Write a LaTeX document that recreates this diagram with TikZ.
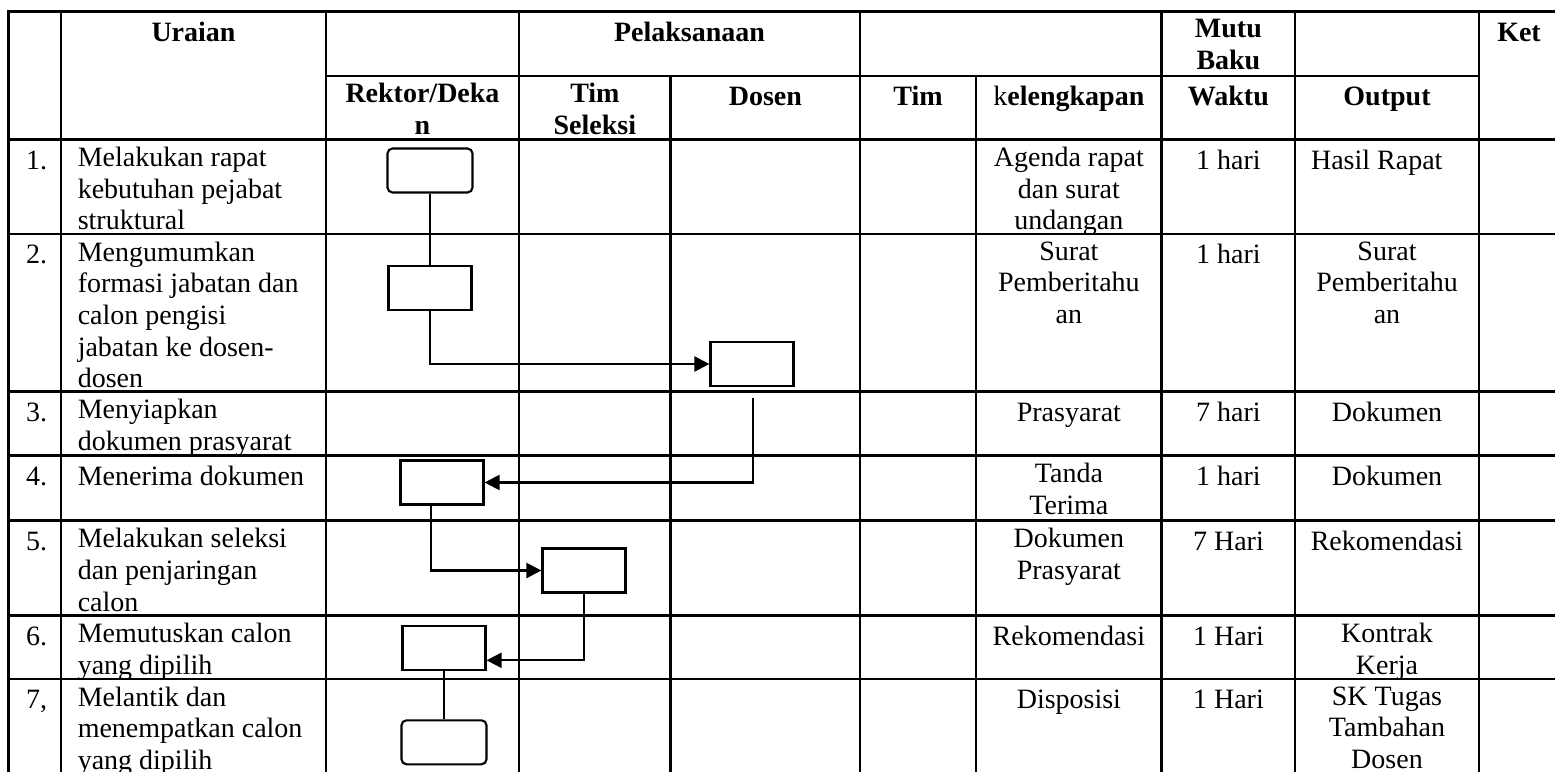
\documentclass[tikz,border=0pt]{standalone}
\usepackage{fontspec}
\setmainfont{Liberation Serif}
\usetikzlibrary{arrows.meta}

\begin{document}
\begin{tikzpicture}[x=1pt,y=-1pt,line width=2.1pt,>={Triangle[length=15pt,width=15pt]},
  grid/.style={line width=2.9pt,line cap=rect},
  txt/.style={inner sep=0pt,font=\fontsize{28}{31.7}\selectfont,execute at begin node=\strut},
  hd/.style={txt,font=\fontsize{28}{31.7}\selectfont\bfseries,align=center,anchor=north},
  mid/.style={txt,align=center,anchor=north},
  lft/.style={txt,align=left,anchor=north west},
  actbox/.style={draw,minimum width=83pt,minimum height=44pt,inner sep=0pt},
  termbox/.style={actbox,minimum width=85pt,rounded corners=5pt}]
  \useasboundingbox (0,0) rectangle (1555,771);
  % garis tabel
  \foreach \y in {11.7,139.3,234,391.7,455.5,520.7,615.7,679} \draw[grid] (8.3,\y) -- (1562,\y);
  \draw[grid] (326,76) -- (1479,76);
  \foreach \x in {8.3,61,326,519,860,1161.7,1295,1479} \draw[grid] (\x,11.7) -- (\x,780);
  \foreach \x in {670.7,976} \draw[grid] (\x,76) -- (\x,780);
  % kepala tabel
  \node[hd] (uraian) at (193.5,18) {Uraian};
  \node[hd] (pelaksanaan) at (689.5,18) {Pelaksanaan};
  \node[hd] (mutu) at (1228.4,18) {Mutu\\Baku};
  \node[hd] (ket) at (1519,18) {Ket};
  \node[hd] (rektor) at (422.5,82.3) {Rektor/Deka\\n};
  \node[hd] (timsel) at (594.9,82.3) {Tim\\Seleksi};
  \node[hd] (dosen) at (765.4,82.3) {Dosen};
  \node[hd] (tim) at (918,82.3) {Tim};
  \node[hd] (kel) at (1068.9,82.3) {{\mdseries k}elengkapan};
  \node[hd] (waktu) at (1228.4,82.3) {Waktu};
  \node[hd] (output) at (1387,82.3) {Output};
  % uraian kegiatan
  \foreach \n/\y/\t [count=\i] in {1./146/{Melakukan rapat\\kebutuhan pejabat\\struktural},
      2./240.7/{Mengumumkan\\formasi jabatan dan\\calon pengisi\\jabatan ke dosen-\\dosen},
      3./398.4/{Menyiapkan\\dokumen prasyarat},
      4./462.2/{Menerima dokumen},
      5./527.4/{Melakukan seleksi\\dan penjaringan\\calon},
      6./622.4/{Memutuskan calon\\yang dipilih},
      {7,}/685.7/{Melantik dan\\menempatkan calon\\yang dipilih}}{
    \node[lft] (no\i) at (25,\y) {\n};
    \node[lft] (ur\i) at (76.7,\y) {\t};
  }
  % kelengkapan, waktu, output
  \node[mid] (kl1) at (1068.9,146) {Agenda rapat\\dan surat\\undangan};
  \node[mid] (wk1) at (1228.4,146) {1 hari};
  \node[lft] (op1) at (1310,146) {Hasil Rapat};
  \node[mid] (kl2) at (1068.9,240.7) {Surat\\Pemberitahu\\an};
  \node[mid] (wk2) at (1228.4,240.7) {1 hari};
  \node[mid] (op2) at (1387,240.7) {Surat\\Pemberitahu\\an};
  \node[mid] (kl3) at (1068.9,398.4) {Prasyarat};
  \node[mid] (wk3) at (1228.4,398.4) {7 hari};
  \node[mid] (op3) at (1387,398.4) {Dokumen};
  \node[mid] (kl4) at (1068.9,462.2) {Tanda\\Terima};
  \node[mid] (wk4) at (1228.4,462.2) {1 hari};
  \node[mid] (op4) at (1387,462.2) {Dokumen};
  \node[mid] (kl5) at (1068.9,527.4) {Dokumen\\Prasyarat};
  \node[mid] (wk5) at (1228.4,527.4) {7 Hari};
  \node[mid] (op5) at (1387,527.4) {Rekomendasi};
  \node[mid] (kl6) at (1068.9,622.4) {Rekomendasi};
  \node[mid] (wk6) at (1228.4,622.4) {1 Hari};
  \node[mid] (op6) at (1387,622.4) {Kontrak\\Kerja};
  \node[mid] (kl7) at (1068.9,685.7) {Disposisi};
  \node[mid] (wk7) at (1228.4,685.7) {1 Hari};
  \node[mid] (op7) at (1387,685.7) {SK Tugas\\Tambahan\\Dosen};
  % bagan alir
  \node[termbox] (b1) at (430,170.5) {};
  \node[actbox] (b2) at (430,288) {};
  \node[actbox] (b3) at (752,364) {};
  \node[actbox] (b4) at (442,482.5) {};
  \node[actbox] (b5) at (584,570.5) {};
  \node[actbox] (b6) at (444,648.3) {};
  \node[termbox] (b7) at (444,742.3) {};
  \coordinate (c3) at (753,398);
  \draw (b1) -- (b2);
  \draw[->] (b2.south) |- (b3.west);
  \draw[->] (c3) |- (b4.east);
  \draw[->] ([xshift=-11pt]b4.south) |- (b5.west);
  \draw[->] (b5.south) |- ([yshift=-12pt]b6.east);
  \draw (b6) -- (b7);
\end{tikzpicture}
\end{document}
